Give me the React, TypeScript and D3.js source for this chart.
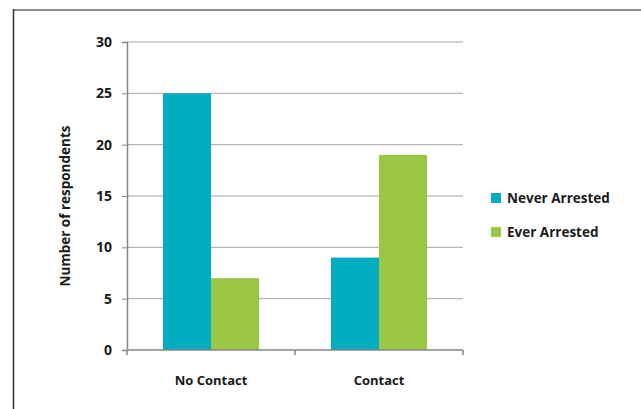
import { useEffect, useRef } from "react";
import * as d3 from "d3";

const categories = ["No Contact", "Contact"];
const seriesNames = ["Never Arrested", "Ever Arrested"];
const neverArrested = [25, 9];
const everArrested = [7, 19];
const yTicks = [0, 5, 10, 15, 20, 25, 30];
const colors = ["#00adc1", "#9bc646"];

const font = "'Open Sans', 'Noto Sans', sans-serif";

export default function App() {
  const svgRef = useRef<SVGSVGElement>(null);

  useEffect(() => {
    document.body.style.margin = "0";
    if (!svgRef.current) return;
    const svg = d3.select(svgRef.current);
    svg.selectAll("*").remove();

    const width = 641;
    const height = 409;
    const margin = { top: 42, right: 178, bottom: 59, left: 127 };

    // outer frame (top + left only visible)
    svg.append("line").attr("x1", 13).attr("x2", 641).attr("y1", 10).attr("y2", 10)
      .attr("stroke", "#8c8c8c").attr("stroke-width", 2);
    svg.append("line").attr("x1", 13.5).attr("x2", 13.5).attr("y1", 9).attr("y2", height)
      .attr("stroke", "#333").attr("stroke-width", 1.5);

    const x0 = d3.scaleBand().domain(categories).range([margin.left, width - margin.right]).padding(0);
    const x1 = d3.scaleBand().domain(seriesNames).range([0, x0.bandwidth()]).paddingInner(0).paddingOuter(0.75);
    const y = d3.scaleLinear().domain([0, 30]).range([height - margin.bottom, margin.top]);

    const g = svg.append("g");

    // gridlines
    g.selectAll(".grid").data(yTicks.filter((t) => t > 0)).enter().append("line")
      .attr("x1", margin.left).attr("x2", width - margin.right)
      .attr("y1", (d) => y(d)).attr("y2", (d) => y(d))
      .attr("stroke", "#a6a6a6").attr("stroke-width", 1);

    // bars
    const data = categories.map((c, i) => ({ cat: c, values: [neverArrested[i], everArrested[i]] }));
    const groups = g.selectAll(".grp").data(data).enter().append("g")
      .attr("transform", (d) => `translate(${x0(d.cat)},0)`);
    groups.selectAll("rect").data((d) => d.values.map((v, j) => ({ v, s: seriesNames[j], j }))).enter()
      .append("rect")
      .attr("x", (d) => x1(d.s)!)
      .attr("y", (d) => y(d.v))
      .attr("width", x1.bandwidth())
      .attr("height", (d) => y(0) - y(d.v))
      .attr("fill", (d) => colors[d.j]);

    // y axis
    const yAxis = d3.axisLeft(y).tickValues(yTicks).tickSize(5).tickPadding(10);
    const ya = g.append("g").attr("transform", `translate(${margin.left},0)`).call(yAxis);
    ya.select(".domain").attr("stroke", "#868686").attr("stroke-width", 1.5);
    ya.selectAll(".tick line").attr("stroke", "#868686");
    ya.selectAll("text").attr("font-family", font).attr("font-size", 14).attr("font-weight", "bold").attr("fill", "#1a1a1a");

    // x axis
    const xa = g.append("g").attr("transform", `translate(0,${y(0)})`);
    xa.append("line").attr("x1", margin.left).attr("x2", width - margin.right).attr("y1", 0).attr("y2", 0)
      .attr("stroke", "#868686").attr("stroke-width", 1.5);
    const bounds = [...categories.map((c) => x0(c)!), x0(categories[categories.length - 1])! + x0.bandwidth()];
    xa.selectAll(".xt").data(bounds).enter().append("line")
      .attr("x1", (d) => d).attr("x2", (d) => d).attr("y1", 0).attr("y2", 5)
      .attr("stroke", "#868686").attr("stroke-width", 1.5);
    xa.selectAll(".xl").data(categories).enter().append("text")
      .attr("x", (d) => x0(d)! + x0.bandwidth() / 2)
      .attr("y", 35)
      .attr("text-anchor", "middle")
      .attr("font-family", font).attr("font-size", 13).attr("font-weight", "bold").attr("fill", "#1a1a1a")
      .text((d) => d);

    // y title
    svg.append("text")
      .attr("transform", `translate(70,206) rotate(-90)`)
      .attr("text-anchor", "middle")
      .attr("font-family", font).attr("font-size", 13.5).attr("font-weight", "bold").attr("fill", "#1a1a1a")
      .text("Number of respondents");

    // legend
    const lg = svg.append("g").attr("transform", "translate(491,193)");
    seriesNames.forEach((s, i) => {
      const row = lg.append("g").attr("transform", `translate(0,${i * 34})`);
      row.append("rect").attr("width", 10).attr("height", 10).attr("fill", colors[i]);
      row.append("text").attr("x", 16).attr("y", 10)
        .attr("font-family", font).attr("font-size", 13.5).attr("font-weight", "bold").attr("fill", "#1a1a1a")
        .text(s);
    });
  }, []);

  return <svg ref={svgRef} width={641} height={409} style={{ display: "block", background: "#fff" }} />;
}
